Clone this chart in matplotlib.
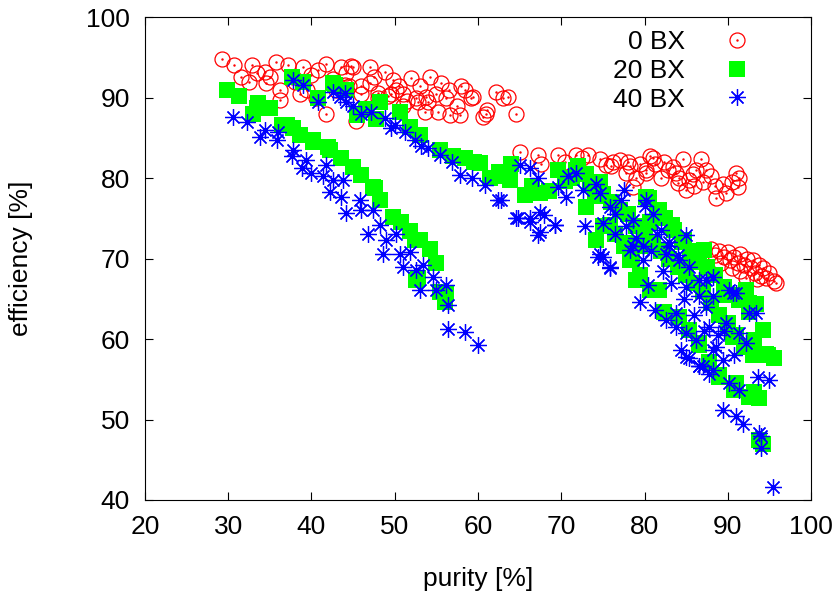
import matplotlib
matplotlib.use("Agg")
import matplotlib.pyplot as plt
from matplotlib.legend_handler import HandlerTuple

plt.rcParams['font.family'] = ['Liberation Sans', 'DejaVu Sans']

# 0 BX (red circles)
purity_0bx = [29.3, 30.7, 32.8, 32.5, 34.4, 34.5, 35.7, 37.2, 36.2, 36.2, 39.0, 38.6, 40.8, 41.8,
              43.6, 44.8, 41.8, 44.2, 45.4, 45.0, 47.0, 48.8, 47.0, 49.8, 52.0, 54.2, 55.6, 51.0,
              53.8, 56.2, 58.4, 59.4, 62.2, 63.6, 53.6, 55.2, 56.6, 57.8, 60.6, 61.0, 64.6, 59.1,
              61.1, 63.0, 46.0, 48.0, 50.2, 51.5, 52.8, 49.2, 44.0, 42.6, 40.0, 37.8,
              43.0, 44.5, 46.0, 47.5, 48.0, 49.5, 50.5, 51.0, 52.5, 53.0, 54.0, 55.0, 56.5, 57.5,
              58.0, 38.0, 39.5, 40.5, 35.0, 33.5, 31.5,
              65.0, 67.2, 67.6, 69.6, 71.8, 73.2, 74.6, 75.4, 77.0, 78.6, 77.8, 79.4, 80.2, 80.6,
              80.2, 82.4, 83.8, 84.6, 85.0, 86.8, 87.4, 88.0, 88.6, 89.4, 89.8, 91.0, 91.2, 86.2,
              83.4, 85.4, 76.2, 78.2, 81.2, 82.0, 84.0, 86.0, 70.5, 72.5, 76.0, 78.0, 79.0, 81.0,
              82.8, 84.2, 85.8, 87.0, 88.5, 90.5, 91.3,
              88.0, 88.5, 89.0, 89.5, 90.0, 90.3, 90.8, 91.2, 91.5, 92.0, 92.3, 92.8, 93.0, 93.3,
              93.7, 94.0, 94.2, 94.6, 95.0, 95.5, 95.8, 92.2, 93.5, 89.2, 90.5, 91.5]
eff_0bx = [94.8, 94.1, 94.0, 92.0, 93.2, 91.8, 94.4, 94.0, 90.9, 89.7, 93.8, 90.5, 93.4, 94.2,
           93.8, 93.9, 88.0, 93.0, 87.1, 93.8, 93.8, 93.2, 91.8, 92.2, 92.4, 92.6, 91.8, 90.5,
           90.1, 89.9, 90.9, 90.1, 90.7, 90.1, 88.2, 88.2, 87.8, 87.8, 87.6, 88.0, 88.0, 89.9,
           88.4, 90.0, 91.5, 90.6, 91.0, 89.6, 89.4, 90.2, 91.6, 92.3, 92.8, 92.6,
           91.0, 91.5, 90.5, 92.5, 90.0, 90.5, 91.5, 89.0, 90.0, 91.5, 89.5, 90.5, 91.0, 89.0,
           91.5, 92.0, 91.0, 90.0, 92.5, 93.0, 92.5,
           83.3, 82.9, 81.8, 82.9, 82.9, 82.9, 82.4, 81.6, 82.2, 78.9, 80.6, 81.8, 80.6, 82.7,
           81.0, 82.0, 80.6, 82.4, 78.5, 82.4, 81.0, 80.2, 77.5, 79.3, 78.1, 80.6, 78.9, 81.0,
           81.4, 79.8, 82.0, 81.5, 81.8, 80.0, 79.4, 79.0, 82.0, 82.5, 81.5, 82.0, 80.0, 82.5,
           81.0, 80.0, 80.5, 79.5, 79.0, 79.5, 80.0,
           71.2, 70.5, 71.0, 70.2, 70.8, 69.8, 70.2, 69.5, 70.6, 69.2, 70.0, 68.8, 69.8, 68.2,
           69.2, 67.8, 68.8, 67.6, 68.2, 67.2, 67.0, 67.6, 67.5, 69.5, 68.8, 68.4]

# 20 BX (green squares)
purity_20bx = [29.9, 31.3, 33.6, 33.0, 35.0, 36.4, 37.8, 38.6, 40.2, 42.0, 33.4, 37.0, 40.2, 42.2,
               45.0, 47.4, 48.2, 49.8, 53.0, 52.6, 56.2, 47.6, 52.4, 55.4, 56.0, 52.8, 43.5, 46.0,
               50.8, 51.8, 54.2, 55.0,
               37.7, 39.0, 40.8, 42.6, 44.2, 42.8, 45.5, 48.2, 50.6, 53.0, 55.4, 58.4, 60.2, 61.4,
               63.8, 64.0, 63.2, 65.6, 67.4, 69.6, 71.8, 73.4, 74.6, 73.0, 74.2, 75.0, 77.8, 80.2,
               79.4, 46.5, 47.8, 51.8, 57.0, 59.5, 62.5, 66.5, 68.5, 70.5,
               71.3, 74.1, 75.8, 78.2, 79.4, 80.6, 81.8, 83.3, 84.8, 86.0, 87.2, 89.6, 91.4, 92.6,
               93.2, 94.8, 93.2, 93.8, 93.8, 80.6, 82.4, 85.4, 86.6, 87.8, 89.0, 90.8, 93.4, 94.2,
               92.2, 94.6, 92.6, 94.2, 79.0, 81.8, 84.2, 86.6, 89.0, 91.0, 90.6, 95.5,
               72.0, 73.0, 74.0, 75.0, 76.0, 77.0, 78.0, 79.0, 80.0, 81.0, 82.0, 83.0, 84.0, 85.0,
               86.0, 87.0, 88.0, 89.0, 90.0, 91.0, 92.0, 93.0, 80.5, 81.5, 82.5, 83.5, 84.5, 85.5,
               86.5, 87.5, 88.5, 89.5, 90.5, 91.5, 92.5, 76.5, 77.5, 78.5]
eff_20bx = [90.9, 90.2, 89.3, 88.0, 88.7, 86.6, 86.2, 85.3, 84.5, 83.9, 88.7, 86.6, 84.7, 83.5,
            81.4, 78.9, 77.3, 75.2, 72.3, 67.3, 65.7, 78.8, 72.3, 65.8, 64.6, 67.6, 82.5, 80.4,
            74.5, 73.4, 71.2, 69.5,
            92.6, 92.0, 89.9, 91.8, 90.9, 91.6, 87.8, 89.4, 88.2, 85.3, 83.5, 82.5, 81.9, 80.0,
            79.8, 81.8, 80.2, 77.9, 78.1, 81.0, 81.0, 79.3, 79.5, 76.4, 72.3, 74.0, 71.9, 77.7,
            71.5, 88.6, 87.4, 86.4, 82.8, 82.0, 80.8, 79.0, 78.4, 79.6,
            80.0, 77.8, 74.2, 69.8, 68.0, 74.5, 76.0, 74.2, 72.3, 69.6, 71.1, 65.5, 64.8, 63.4,
            59.9, 58.0, 53.4, 52.7, 47.5, 66.1, 63.4, 61.1, 59.3, 57.1, 55.5, 53.7, 64.4, 61.1,
            66.1, 58.2, 52.8, 47.0, 67.3, 66.1, 62.8, 59.5, 55.3, 54.5, 60.3, 57.6,
            81.5, 80.5, 79.0, 78.0, 77.0, 76.0, 75.5, 74.0, 73.0, 72.0, 71.0, 70.0, 69.0, 68.0,
            67.0, 66.0, 64.5, 63.0, 62.0, 60.5, 59.0, 58.0, 77.5, 76.0, 75.0, 73.5, 72.0, 71.0,
            70.0, 69.0, 68.0, 66.5, 65.5, 65.0, 64.5, 73.0, 71.5, 70.0]

# 40 BX (blue asterisks)
purity_40bx = [30.6, 32.2, 34.4, 33.8, 36.0, 35.8, 37.8, 37.6, 39.4, 38.8, 40.0, 41.8, 41.4, 42.6,
               42.2, 43.8, 43.6, 44.2, 45.8, 46.0, 47.4, 46.8, 48.2, 49.0, 48.6, 50.2, 50.6, 51.8,
               51.0, 52.6, 53.4, 53.0, 55.0, 54.6, 56.2, 56.4, 56.4, 58.4, 60.0,
               37.8, 39.0, 40.8, 42.6, 43.4, 44.2, 45.0, 44.0, 47.2, 48.8, 50.0, 51.2, 52.4, 54.0,
               55.4, 56.9, 57.8, 59.3, 60.8, 62.4, 64.8, 66.2, 67.4, 67.9, 69.2, 65.0, 66.2, 67.2,
               62.8, 64.6, 66.2, 67.4, 67.2, 69.2, 69.6, 70.6, 70.8, 71.8, 72.6, 72.8, 74.2, 74.6,
               75.0, 74.6, 75.8, 76.4, 77.2, 75.8, 78.6, 80.2, 79.8, 78.6, 46.0, 49.5, 53.2,
               75.0, 78.2, 79.8, 80.4, 79.4, 81.2, 82.6, 83.8, 84.4, 85.4, 83.8, 86.6, 87.8, 85.0,
               86.2, 87.4, 86.6, 85.0, 84.2, 82.6, 87.8, 88.6, 88.2,
               85.0, 86.6, 88.2, 90.2, 91.4, 89.4, 91.0, 91.8, 93.6, 95.0, 94.0, 94.0, 95.4, 92.2,
               91.4, 88.2, 89.4, 85.0, 85.4, 88.2, 91.0, 93.4, 90.2, 86.6, 89.8, 74.4, 75.8, 87.0,
               93.8, 92.6, 90.6, 87.4, 81.0, 82.0, 83.0, 84.0, 80.0, 77.5,
               76.5, 77.8, 79.0, 80.8, 82.2, 83.2, 84.8, 86.0, 87.2, 88.8, 89.6, 90.8, 81.5, 83.0]
eff_40bx = [87.6, 87.0, 86.0, 85.1, 85.7, 84.7, 83.5, 82.7, 82.2, 81.2, 80.6, 81.6, 80.2, 79.8,
            78.3, 79.8, 77.7, 75.6, 77.3, 76.0, 76.0, 73.1, 74.2, 72.3, 70.6, 73.1, 70.6, 70.8,
            69.0, 68.6, 69.2, 66.1, 66.1, 67.7, 66.7, 64.2, 61.3, 60.9, 59.3,
            92.2, 91.6, 89.5, 90.7, 90.1, 89.5, 88.9, 90.6, 88.2, 87.5, 86.6, 85.7, 84.7, 83.7,
            82.9, 82.0, 80.4, 80.0, 79.1, 77.3, 75.0, 75.0, 73.3, 75.4, 74.2, 81.6, 81.2, 80.0,
            77.3, 75.0, 74.6, 75.8, 72.9, 74.2, 78.9, 77.7, 80.2, 80.6, 78.5, 74.0, 79.3, 78.1,
            74.4, 70.6, 69.0, 73.1, 77.3, 76.4, 74.8, 77.3, 71.5, 71.5, 88.0, 86.2, 84.0,
            70.2, 71.1, 69.8, 66.7, 64.6, 63.6, 62.4, 63.2, 58.6, 57.6, 61.5, 56.6, 55.7, 60.7,
            59.9, 64.0, 67.3, 66.5, 69.8, 70.6, 61.5, 59.0, 65.3,
            57.8, 56.6, 56.1, 54.5, 53.7, 51.2, 50.4, 49.5, 55.3, 54.9, 47.9, 46.4, 41.6, 59.5,
            60.7, 58.6, 57.4, 72.9, 69.0, 67.7, 65.7, 63.2, 66.1, 65.3, 62.0, 70.2, 68.8, 56.6,
            48.3, 63.2, 65.7, 67.3, 75.5, 73.5, 72.0, 70.5, 76.5, 78.5,
            75.5, 74.0, 72.5, 71.0, 68.5, 67.0, 65.0, 63.0, 61.0, 60.5, 61.0, 58.0, 73.0, 71.5]

fig = plt.figure(figsize=(8.4, 5.91), dpi=100)
ax = fig.add_axes([0.1726, 0.154, 0.7929, 0.817])

red_o, = ax.plot(purity_0bx, eff_0bx, linestyle='none', marker='o', markersize=10.8,
                 markerfacecolor='none', markeredgecolor='#ff0000', markeredgewidth=0.9)
red_dot, = ax.plot(purity_0bx, eff_0bx, linestyle='none', marker='.', markersize=1.5,
                   color='#ff0000')
green_s, = ax.plot(purity_20bx, eff_20bx, linestyle='none', marker='s', markersize=11.5,
                   color='#00ff00', markeredgewidth=0)
blue_a, = ax.plot(purity_40bx, eff_40bx, linestyle='none', marker=(8, 2, 0), markersize=12,
                  color='#0000ff', markeredgewidth=0.9)

ax.set_xlim(20, 100)
ax.set_ylim(40, 100)
ax.set_xticks([20, 30, 40, 50, 60, 70, 80, 90, 100])
ax.set_yticks([40, 50, 60, 70, 80, 90, 100])
ax.tick_params(direction='in', top=True, right=True, length=6, width=0.8, labelsize=19)
ax.tick_params(axis='x', pad=11)
ax.tick_params(axis='y', pad=11)
for s in ax.spines.values():
    s.set_linewidth(0.8)
ax.set_xlabel('purity [%]', fontsize=19, labelpad=20)
ax.set_ylabel('efficiency [%]', fontsize=19, labelpad=38)

ax.legend([(red_o, red_dot), green_s, blue_a], ['0 BX', '20 BX', '40 BX'],
          handler_map={tuple: HandlerTuple(ndivide=1)},
          loc='upper right', bbox_to_anchor=(0.945, 0.995), borderaxespad=0,
          frameon=False, markerfirst=False, fontsize=19,
          handlelength=2.0, handletextpad=1.0, labelspacing=0.18)

fig.savefig('out.png', dpi=100)
